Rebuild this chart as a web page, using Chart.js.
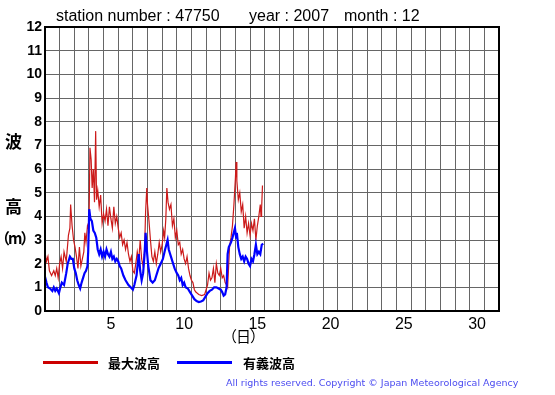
<!DOCTYPE html>
<html><head><meta charset="utf-8">
<script src="https://cdn.jsdelivr.net/npm/chart.js@4"></script>
<style>
html,body{margin:0;padding:0;background:#fff;}
#wrap{position:relative;width:555px;height:395px;overflow:hidden;font-family:"Liberation Sans",Arial,sans-serif;}
canvas{position:absolute;left:0;top:0;}
.t{position:absolute;white-space:nowrap;color:#000;}
</style></head>
<body><div id="wrap">
<canvas id="c" width="555" height="395"></canvas>
<div class="t" style="left:56px;top:7px;font-size:16px;">station number : 47750</div>
<div class="t" style="left:249px;top:7px;font-size:16px;">year : 2007</div>
<div class="t" style="left:344px;top:7px;font-size:16px;">month : 12</div>
<div class="t" style="left:5px;top:131px;font-size:17px;font-family:'Noto Sans CJK JP';font-weight:bold;line-height:20px;">波</div>
<div class="t" style="left:5px;top:196px;font-size:17px;font-family:'Noto Sans CJK JP';font-weight:bold;line-height:20px;">高</div>
<div class="t" style="left:-5px;top:228px;font-size:15px;font-family:'Noto Sans CJK JP';font-weight:bold;line-height:20px;letter-spacing:-2px;">（m）</div>
<div class="t" style="left:222px;top:326px;font-size:15px;font-family:'Noto Sans CJK JP';line-height:20px;letter-spacing:-1px;">（日）</div>
<div style="position:absolute;left:43px;top:361px;width:55px;height:3px;background:#cc0000;"></div>
<div class="t" style="left:108px;top:354px;font-size:13px;font-family:'Noto Sans CJK JP';font-weight:bold;line-height:18px;">最大波高</div>
<div style="position:absolute;left:177px;top:361px;width:55px;height:3px;background:#0000ff;"></div>
<div class="t" style="left:243px;top:354px;font-size:13px;font-family:'Noto Sans CJK JP';font-weight:bold;line-height:18px;">有義波高</div>
<div class="t" style="left:226px;top:377px;font-size:9.5px;letter-spacing:0px;color:#4c4cf0;font-family:'DejaVu Sans';">All rights reserved. Copyright © Japan Meteorological Agency</div>
</div>
<script>
// time in days since 1 Dec 00:00
const maxTimes = [0,0.1,0.2,0.3,0.45,0.6,0.7,0.8,0.9,1.0,1.1,1.2,1.3,1.45,1.6,1.7,1.75,1.85,1.95,2.05,2.15,2.25,2.35,2.45,2.55,2.65,2.72,2.8,2.9,3.0,3.07,3.15,3.22,3.3,3.38,3.46,3.52,3.6,3.7,3.8,3.9,4.0,4.1,4.2,4.3,4.4,4.5,4.6,4.7,4.8,4.9,5.0,5.1,5.2,5.3,5.4,5.5,5.6,5.7,5.8,5.9,6.0,6.1,6.2,6.3,6.4,6.5,6.6,6.7,6.8,6.87,6.95,7.0,7.1,7.2,7.3,7.4,7.5,7.6,7.7,7.8,7.9,8.0,8.1,8.17,8.25,8.32,8.4,8.5,8.6,8.7,8.8,8.9,9.0,9.1,9.2,9.3,9.4,9.5,9.6,9.7,9.8,9.9,10.0,10.1,10.2,10.3,10.5,10.7,10.9,11.0,11.1,11.2,11.3,11.4,11.5,11.6,11.7,11.8,11.9,12.0,12.1,12.2,12.3,12.4,12.47,12.6,12.7,12.8,12.9,13.0,13.05,13.1,13.2,13.3,13.4,13.5,13.6,13.7,13.8,13.9,14.0,14.1,14.2,14.3,14.4,14.5,14.6,14.7,14.75,14.79,14.85];
const maxWave = [2.5,2.1,2.3,1.7,1.5,1.7,1.5,1.8,1.4,2.0,2.3,1.8,2.5,2.1,3.2,3.5,4.5,3.6,3.0,2.7,2.3,1.8,2.7,1.9,2.2,2.5,3.3,2.9,3.6,3.4,6.9,6.4,5.2,6.0,4.6,7.6,4.7,5.1,4.4,4.9,3.7,4.1,3.8,4.3,3.6,4.4,3.9,3.5,4.4,3.7,4.0,3.5,3.1,3.3,2.8,3.0,2.6,2.9,2.4,2.1,2.3,1.7,1.6,2.0,2.5,2.1,3.0,2.2,1.9,2.6,4.2,5.2,4.5,3.8,3.0,2.3,2.1,2.5,2.0,2.4,2.9,2.5,2.8,3.4,3.1,3.9,5.2,4.6,4.3,4.5,3.6,3.9,3.1,3.4,2.8,2.9,2.4,2.6,2.2,2.0,2.3,1.8,1.5,1.3,1.2,0.9,0.8,0.7,0.65,0.7,0.9,1.1,1.6,1.3,1.4,1.8,1.2,2.0,1.6,1.5,1.8,1.4,1.5,1.2,1.1,1.0,2.7,3.1,3.6,4.5,5.6,6.3,5.5,4.7,5.0,4.2,4.5,3.5,4.0,3.3,3.7,3.2,3.7,3.4,3.9,3.0,3.6,4.0,4.5,4.0,4.3,5.3,4.4];
const sigTimes = [0,0.1,0.2,0.35,0.5,0.6,0.7,0.8,0.95,1.05,1.15,1.3,1.45,1.55,1.7,1.8,1.9,2.0,2.1,2.2,2.3,2.4,2.5,2.6,2.7,2.8,2.9,2.95,3.02,3.1,3.2,3.3,3.4,3.5,3.6,3.7,3.8,3.9,4.0,4.1,4.2,4.3,4.4,4.5,4.6,4.7,4.8,4.9,5.0,5.1,5.2,5.35,5.5,5.7,5.85,6.0,6.1,6.25,6.4,6.5,6.6,6.7,6.8,6.87,6.95,7.05,7.2,7.35,7.5,7.6,7.75,7.9,8.05,8.2,8.37,8.45,8.6,8.7,8.85,9.0,9.1,9.2,9.3,9.4,9.5,9.6,9.75,9.9,10.05,10.2,10.35,10.5,10.65,10.8,10.95,11.1,11.25,11.4,11.55,11.7,11.85,12.0,12.1,12.2,12.3,12.4,12.47,12.55,12.7,12.8,12.97,13.05,13.1,13.2,13.3,13.4,13.5,13.6,13.7,13.8,13.9,14.0,14.1,14.2,14.3,14.4,14.5,14.6,14.7,14.8,14.9];
const sigWave = [1.45,1.2,1.0,0.95,0.85,1.0,0.85,0.95,0.75,1.0,1.2,1.1,1.6,2.0,2.3,2.2,2.2,1.8,1.6,1.3,1.1,0.95,1.2,1.4,1.6,1.7,1.9,2.5,4.3,3.9,3.8,3.4,3.3,3.1,2.6,2.4,2.6,2.3,2.5,2.3,2.6,2.4,2.3,2.5,2.2,2.3,2.1,2.2,2.1,1.9,1.8,1.5,1.3,1.1,1.0,0.9,1.1,1.5,2.4,1.7,1.3,1.6,2.4,3.3,2.6,1.9,1.3,1.2,1.3,1.5,1.8,2.0,2.2,2.6,3.0,2.6,2.3,2.1,1.8,1.6,1.5,1.3,1.4,1.1,1.2,1.0,0.95,0.8,0.65,0.5,0.42,0.38,0.4,0.45,0.6,0.75,0.85,0.9,1.0,1.0,0.95,0.9,0.8,0.65,0.7,1.0,2.4,2.7,2.9,3.1,3.5,3.1,3.3,2.7,2.4,2.2,2.3,2.1,2.3,2.2,2.0,1.9,2.2,2.1,2.4,2.8,2.4,2.5,2.4,2.8,2.85];
const yTicks = [0,1,2,3,4,5,6,7,8,9,10,11,12];
const dayLabels = [5,10,15,20,25,30];

const maxData = maxTimes.map((t,i)=>({x:t,y:maxWave[i]}));
const sigData = sigTimes.map((t,i)=>({x:t,y:sigWave[i]}));

const borderPlugin = {id:'frame', afterDraw(ch){const a=ch.chartArea,c=ch.ctx;c.save();c.strokeStyle='#000';c.lineWidth=2;c.strokeRect(a.left,a.top,a.right-a.left,a.bottom-a.top);c.restore();}};

new Chart(document.getElementById('c'), {
  type:'line',
  data:{datasets:[
    {data:maxData,borderColor:'#cc1a1a',borderWidth:1.2,pointRadius:0,tension:0,order:2},
    {data:sigData,borderColor:'#0000ff',borderWidth:2.2,pointRadius:0,tension:0,order:1}
  ]},
  options:{
    responsive:false,animation:false,
    layout:{padding:{top:27,right:56,left:0,bottom:0}},
    plugins:{legend:{display:false},tooltip:{enabled:false}},
    scales:{
      x:{type:'linear',min:0,max:31,
        afterBuildTicks(s){const t=[];for(let i=0;i<=31;i++)t.push({value:i});dayLabels.forEach(d=>t.push({value:d-0.5}));s.ticks=t;},
        afterFit(s){s.height=84;},
        grid:{color:c=>Number.isInteger(c.tick&&c.tick.value)?'#666':'rgba(0,0,0,0)',lineWidth:1,drawTicks:false},
        border:{display:false},
        ticks:{autoSkip:false,maxRotation:0,padding:4,color:'#000',font:{family:'Liberation Sans',size:16},
          callback:v=>Number.isInteger(v)?'':String(v+0.5)}},
      y:{min:0,max:12,
        afterBuildTicks(s){s.ticks=yTicks.map(v=>({value:v}));},
        afterFit(s){s.width=45;},
        grid:{color:'#666',lineWidth:1,drawTicks:false},
        border:{display:false},
        ticks:{padding:3,color:'#000',font:{family:'Liberation Sans',size:14,weight:'bold'}}}
    }
  },
  plugins:[borderPlugin]
});
</script>
</body></html>
